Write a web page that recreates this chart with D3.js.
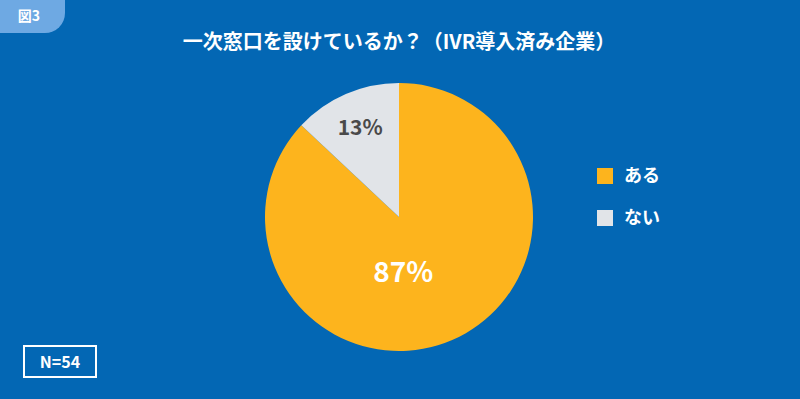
<!DOCTYPE html>
<html>
<head>
<meta charset="utf-8">
<script src="https://cdn.jsdelivr.net/npm/d3@7"></script>
<style>
  html, body { margin: 0; padding: 0; background: #0367b4; }
  svg { display: block; font-family: "Noto Sans CJK JP", "Noto Sans", sans-serif; }
</style>
</head>
<body>
<div id="chart"></div>
<script>
var categories = ["ある", "ない"];
var values = [87, 13]; // percent
var colors = ["#fdb41d", "#e1e4e8"];
var labelColors = ["#ffffff", "#4a4a4a"];
var title = "一次窓口を設けているか？（IVR導入済み企業）";
var figLabel = "図3";
var sampleNote = "N=54";

var w = 800, h = 399;
var svg = d3.select("#chart").append("svg")
  .attr("width", w)
  .attr("height", h);

svg.append("rect").attr("width", w).attr("height", h).attr("fill", "#0367b4");

// figure tab (rounded bottom-right corner)
svg.append("path")
  .attr("d", "M0,0 H65 V13 A20,20 0 0 1 45,33 H0 Z")
  .attr("fill", "#6ea9e3");
svg.append("text")
  .attr("x", 29).attr("y", 21)
  .attr("text-anchor", "middle")
  .attr("fill", "#fff")
  .attr("font-size", 14)
  .attr("font-weight", "bold")
  .text(figLabel);

// title
svg.append("text")
  .attr("x", 399).attr("y", 49)
  .attr("text-anchor", "middle")
  .attr("fill", "#fff")
  .attr("font-size", 20)
  .attr("font-weight", "bold")
  .text(title);

// pie
var cx = 399, cy = 217, r = 134;
var pie = d3.pie().sort(null).value(function(d) { return d; });
var arcs = pie(values);
var arc = d3.arc().innerRadius(0).outerRadius(r);
var g = svg.append("g").attr("transform", "translate(" + cx + "," + cy + ")");

g.selectAll("path.slice")
  .data(arcs)
  .enter()
  .append("path")
  .attr("class", "slice")
  .attr("d", arc)
  .attr("fill", function(d, i) { return colors[i]; });

// labels: radius (fraction of r) and angle shift from slice middle (radians)
var labelRadius = [0.41, 0.73];
var labelShift = [0.333, 0];
var labelSize = [28, 21];
g.selectAll("text.lbl")
  .data(arcs)
  .enter()
  .append("text")
  .attr("class", "lbl")
  .attr("transform", function(d, i) {
    var a = (d.startAngle + d.endAngle) / 2 + labelShift[i];
    var p = d3.pointRadial(a, r * labelRadius[i]);
    return "translate(" + p[0] + "," + p[1] + ")";
  })
  .attr("text-anchor", "middle")
  .attr("dy", "0.35em")
  .attr("fill", function(d, i) { return labelColors[i]; })
  .attr("font-size", function(d, i) { return labelSize[i]; })
  .attr("font-weight", "bold")
  .text(function(d) { return d.data + "%"; });

// legend
var legend = svg.append("g").attr("transform", "translate(597,168)");
var item = legend.selectAll("g")
  .data(categories)
  .enter()
  .append("g")
  .attr("transform", function(d, i) { return "translate(0," + (i * 42) + ")"; });
item.append("rect")
  .attr("width", 16).attr("height", 16)
  .attr("fill", function(d, i) { return colors[i]; });
item.append("text")
  .attr("x", 27).attr("y", 8)
  .attr("dy", "0.35em")
  .attr("fill", "#fff")
  .attr("font-size", 18)
  .attr("font-weight", "bold")
  .text(function(d) { return d; });

// sample size box
svg.append("rect")
  .attr("x", 24).attr("y", 346)
  .attr("width", 72).attr("height", 31)
  .attr("fill", "none")
  .attr("stroke", "#fff")
  .attr("stroke-width", 2);
svg.append("text")
  .attr("x", 60).attr("y", 362)
  .attr("dy", "0.35em")
  .attr("text-anchor", "middle")
  .attr("fill", "#fff")
  .attr("font-size", 16)
  .attr("font-weight", "bold")
  .text(sampleNote);
</script>
</body>
</html>
